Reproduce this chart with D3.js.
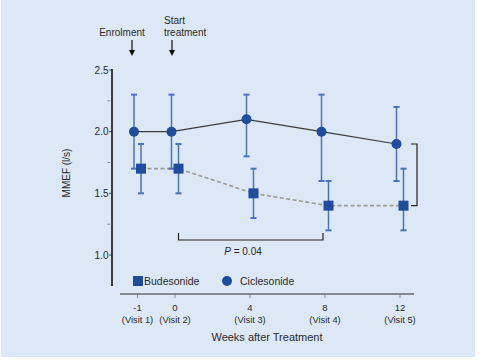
<!DOCTYPE html>
<html>
<head>
<meta charset="utf-8">
<script src="https://cdn.jsdelivr.net/npm/d3@7"></script>
<style>
  body { margin: 0; background: #fff; }
  svg { display: block; font-family: "Liberation Sans", Arial, sans-serif; }
</style>
</head>
<body>
<div id="chart"></div>
<script>
// weeks after treatment (visit 1..5)
const weeks = [-1, 0, 4, 8, 12];
const visits = ['(Visit 1)', '(Visit 2)', '(Visit 3)', '(Visit 4)', '(Visit 5)'];
const cicMean = [2.0, 2.0, 2.1, 2.0, 1.9];
const cicLow = [1.7, 1.7, 1.8, 1.6, 1.6];
const cicHigh = [2.3, 2.3, 2.3, 2.3, 2.2];
const budMean = [1.7, 1.7, 1.5, 1.4, 1.4];
const budLow = [1.5, 1.5, 1.3, 1.2, 1.2];
const budHigh = [1.9, 1.9, 1.7, 1.6, 1.7];
const yTicks = [1.0, 1.5, 2.0, 2.5];
const yMinor = [1.25, 1.75, 2.25];

const W = 488, H = 364;
const MARK = '#1f4c9c';
const ERR = '#4b73b8';
const INK = '#2a2a2a';

const svg = d3.select('#chart').append('svg').attr('width', W).attr('height', H);
svg.append('rect').attr('x', 1).attr('y', 0).attr('width', 474).attr('height', 357).attr('fill', '#dce8f5');

// week -1 sits half an interval before week 0 (broken axis)
const x = d3.scaleLinear().domain([-1, 0, 4, 8, 12]).range([137.5, 175, 250, 325, 400]);
const y = d3.scaleLinear().domain([1.0, 2.5]).range([255, 70]);

const cic = weeks.map((w, i) => ({ w, m: cicMean[i], lo: cicLow[i], hi: cicHigh[i], dx: -3.5 }));
const bud = weeks.map((w, i) => ({ w, m: budMean[i], lo: budLow[i], hi: budHigh[i], dx: 3.5 }));
const px = (d) => x(d.w) + d.dx;

// y axis
const gy = svg.append('g');
gy.append('line').attr('x1', 112).attr('x2', 112).attr('y1', y(2.5) - 1).attr('y2', 286)
  .attr('stroke', INK).attr('stroke-width', 1.8);
gy.selectAll('.yt').data(yTicks).join('line')
  .attr('x1', 109).attr('x2', 112).attr('y1', (d) => y(d)).attr('y2', (d) => y(d))
  .attr('stroke', INK).attr('stroke-width', 0.8);
gy.selectAll('.ym').data(yMinor).join('line')
  .attr('x1', 107.5).attr('x2', 110).attr('y1', (d) => y(d)).attr('y2', (d) => y(d))
  .attr('stroke', '#666').attr('stroke-width', 0.8);
gy.selectAll('text').data(yTicks).join('text')
  .attr('x', 108.5).attr('y', (d) => y(d)).attr('dy', '0.35em').attr('text-anchor', 'end')
  .attr('font-size', 10).attr('fill', INK).text((d) => d.toFixed(1));
svg.append('text').attr('transform', 'translate(70,173) rotate(-90)')
  .attr('text-anchor', 'middle').attr('font-size', 10).attr('fill', INK).text('MMEF (l/s)');

// x axis
const gx = svg.append('g');
gx.append('line').attr('x1', 120).attr('x2', 414).attr('y1', 294).attr('y2', 294)
  .attr('stroke', INK).attr('stroke-width', 1.2);
gx.selectAll('.xt').data(weeks).join('line')
  .attr('x1', (d) => x(d)).attr('x2', (d) => x(d)).attr('y1', 294).attr('y2', 298)
  .attr('stroke', '#777').attr('stroke-width', 0.8);
gx.selectAll('.xl').data(weeks).join('text')
  .attr('x', (d) => x(d)).attr('y', 310.5).attr('text-anchor', 'middle')
  .attr('font-size', 9.5).attr('fill', INK).text((d) => d);
gx.selectAll('.xv').data(visits).join('text')
  .attr('x', (d, i) => x(weeks[i])).attr('y', 322.5).attr('text-anchor', 'middle')
  .attr('font-size', 9.3).attr('fill', INK).text((d) => d);
svg.append('text').attr('x', 267).attr('y', 341).attr('text-anchor', 'middle')
  .attr('font-size', 11).attr('fill', INK).text('Weeks after Treatment');

// top annotations
svg.append('text').attr('x', 122).attr('y', 36).attr('text-anchor', 'middle')
  .attr('font-size', 10).attr('fill', INK).text('Enrolment');
svg.append('text').attr('x', 164).attr('y', 23.5).attr('font-size', 10).attr('fill', INK).text('Start');
svg.append('text').attr('x', 164).attr('y', 36).attr('font-size', 10).attr('fill', INK).text('treatment');
[132, 172].forEach((ax) => {
  svg.append('line').attr('x1', ax).attr('x2', ax).attr('y1', 40).attr('y2', 53)
    .attr('stroke', '#111').attr('stroke-width', 1.2);
  svg.append('path').attr('d', `M${ax - 3},${50} L${ax},${56} L${ax + 3},${50} Z`).attr('fill', '#111');
});

// connecting lines
const line = d3.line().x(px).y((d) => y(d.m));
svg.append('path').datum(bud).attr('d', line).attr('fill', 'none')
  .attr('stroke', '#9a9a9a').attr('stroke-width', 1.6).attr('stroke-dasharray', '4,2.5');
svg.append('path').datum(cic).attr('d', line).attr('fill', 'none')
  .attr('stroke', '#3a3a3a').attr('stroke-width', 1.2);

// error bars
function errorBars(data) {
  const g = svg.append('g').attr('stroke', ERR);
  g.selectAll('.v').data(data).join('line')
    .attr('x1', px).attr('x2', px).attr('y1', (d) => y(d.lo)).attr('y2', (d) => y(d.hi))
    .attr('stroke-width', 1.5);
  g.selectAll('.t').data(data).join('line')
    .attr('x1', (d) => px(d) - 3).attr('x2', (d) => px(d) + 3)
    .attr('y1', (d) => y(d.hi)).attr('y2', (d) => y(d.hi)).attr('stroke-width', 2);
  g.selectAll('.b').data(data).join('line')
    .attr('x1', (d) => px(d) - 3).attr('x2', (d) => px(d) + 3)
    .attr('y1', (d) => y(d.lo)).attr('y2', (d) => y(d.lo)).attr('stroke-width', 2);
}
errorBars(cic);
errorBars(bud);

svg.append('g').selectAll('circle').data(cic).join('circle')
  .attr('cx', px).attr('cy', (d) => y(d.m)).attr('r', 5).attr('fill', MARK);
svg.append('g').selectAll('rect').data(bud).join('rect')
  .attr('x', (d) => px(d) - 5).attr('y', (d) => y(d.m) - 5)
  .attr('width', 10).attr('height', 10).attr('fill', MARK);

// P-value bracket (week 0 to week 8, budesonide)
const bx0 = x(0) + 3.5, bx1 = x(8) - 2;
svg.append('path')
  .attr('d', `M${bx0},${233} V${240} H${bx1} V${233}`)
  .attr('fill', 'none').attr('stroke', '#222').attr('stroke-width', 1.2);
const pt = svg.append('text').attr('x', 243).attr('y', 254.5).attr('text-anchor', 'middle')
  .attr('font-size', 10).attr('fill', INK);
pt.append('tspan').attr('font-style', 'italic').text('P');
pt.append('tspan').text(' = 0.04');

// right bracket between groups at week 12
const rx = x(12) + 17;
svg.append('path')
  .attr('d', `M${rx - 6},${y(cicMean[4])} H${rx} V${y(budMean[4])} H${rx - 6}`)
  .attr('fill', 'none').attr('stroke', '#222').attr('stroke-width', 1.2);

// legend
svg.append('rect').attr('x', 133).attr('y', 276).attr('width', 10).attr('height', 10).attr('fill', MARK);
svg.append('text').attr('x', 144).attr('y', 285).attr('font-size', 10.5).attr('fill', INK).text('Budesonide');
svg.append('circle').attr('cx', 227).attr('cy', 281).attr('r', 5).attr('fill', MARK);
svg.append('text').attr('x', 240).attr('y', 285).attr('font-size', 10.5).attr('fill', INK).text('Ciclesonide');
</script>
</body>
</html>
